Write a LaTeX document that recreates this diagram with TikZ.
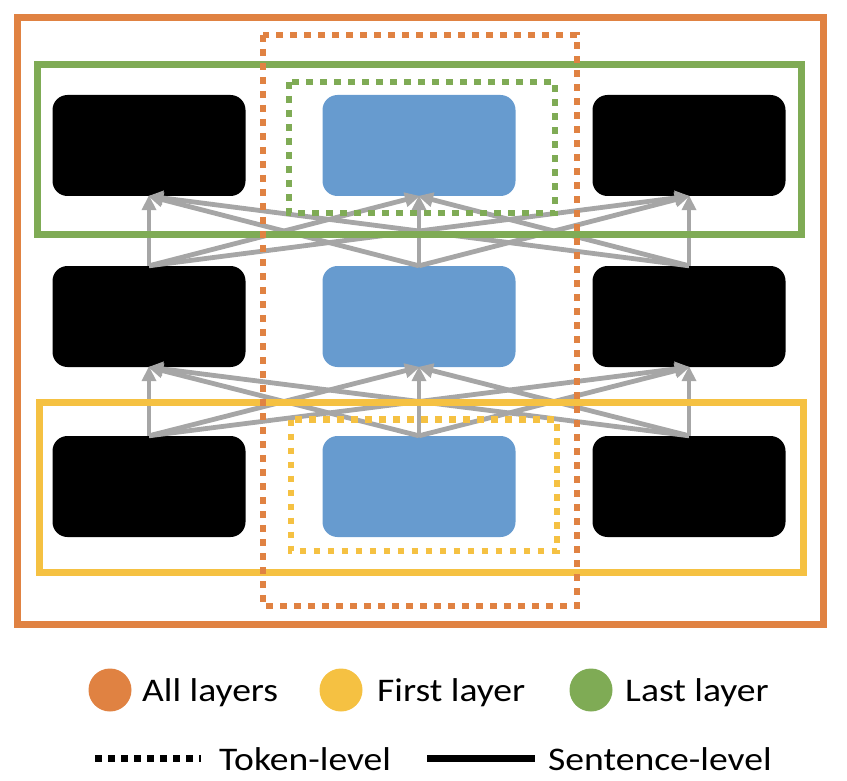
\documentclass[tikz,border=0pt]{standalone}
\usepackage{fontspec}
\newfontfamily\legendfont[FakeStretch=1.14]{Carlito}
\usetikzlibrary{arrows.meta}
\definecolor{orng}{RGB}{224,130,66}
\definecolor{grn}{RGB}{127,171,85}
\definecolor{ylw}{RGB}{245,193,66}
\definecolor{blu}{RGB}{103,155,207}
\definecolor{gry}{RGB}{166,166,166}
\tikzset{
  blk/.style={fill=black, rounded corners=15pt, minimum width=193pt, minimum height=101pt, inner sep=0pt},
  bluebox/.style={fill=blu, rounded corners=15pt, minimum width=193pt, minimum height=101pt, inner sep=0pt},
  conn/.style={draw=gry, line width=4.8pt, -{Triangle[length=15pt,width=14pt]}, shorten >=-1pt},
  solidframe/.style={line width=7pt},
  dotframe/.style={line width=6.8pt, dash pattern=on 6.8pt off 7.2pt},
  legtext/.style={inner sep=0pt, anchor=base west, font=\legendfont\fontsize{33}{40}\selectfont},
}
\begin{document}
\begin{tikzpicture}[x=1pt,y=-1pt]
\useasboundingbox (0,0) rectangle (847,781);
% boxes
\node[blk] (l1) at (149,486.5) {};
\node[bluebox] (m1) at (419,486.5) {};
\node[blk] (r1) at (689,486.5) {};
\node[blk] (l2) at (149,316.5) {};
\node[bluebox] (m2) at (419,316.5) {};
\node[blk] (r2) at (689,316.5) {};
\node[blk] (l3) at (149,145.5) {};
\node[bluebox] (m3) at (419,145.5) {};
\node[blk] (r3) at (689,145.5) {};
% connectors
\foreach \s/\t in {l1/l2,l1/m2,l1/r2,m1/l2,m1/m2,m1/r2,r1/l2,r1/m2,r1/r2,
                   l2/l3,l2/m3,l2/r3,m2/l3,m2/m3,m2/r3,r2/l3,r2/m3,r2/r3}
  \draw[conn] (\s.north) -- (\t.south);
% frames
\draw[orng, solidframe] (17,17.5) rectangle (823,624);
\draw[grn, solidframe] (37,65) rectangle (801,235);
\draw[grn, dotframe] (289,82) rectangle (555,213);
\draw[ylw, solidframe] (39,402) rectangle (803,572);
\draw[ylw, dotframe] (291,419.5) rectangle (557,551);
\draw[orng, dotframe] (263,35) rectangle (577,606);
% legend
\fill[orng] (110,690) circle (21.5);
\node[legtext] (t1) at (142,701) {All layers};
\fill[ylw] (341,690) circle (21.5);
\node[legtext] (t2) at (377,701) {First layer};
\fill[grn] (591,690) circle (21.5);
\node[legtext] (t3) at (625,701) {Last layer};
\draw[line width=7pt, dash pattern=on 7pt off 6pt] (95,758) -- (201,758);
\node[legtext] (t4) at (219,770) {Token-level};
\draw[line width=7pt] (427,758) -- (535,758);
\node[legtext] (t5) at (548,770) {Sentence-level};
\end{tikzpicture}
\end{document}
